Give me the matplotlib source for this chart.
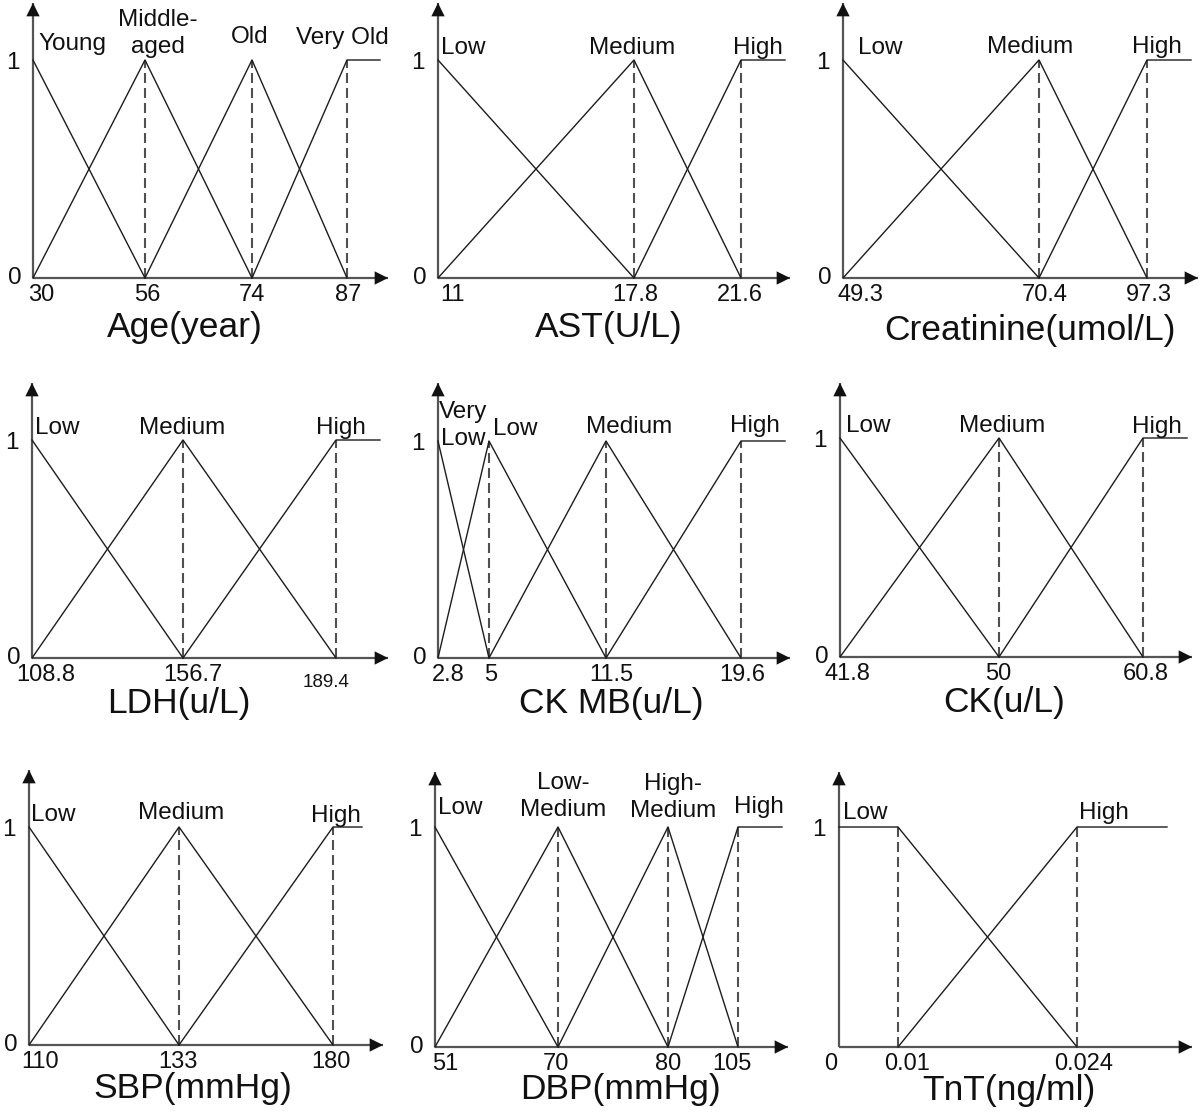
import numpy as np
import matplotlib
matplotlib.use("Agg")
import matplotlib.pyplot as plt

plt.rcParams['font.family'] = ['Liberation Sans', 'DejaVu Sans']

# ---------------- data ----------------
AGE_TITLE = "Age(year)"
AGE_BREAKS = [30, 56, 74, 87]
AGE_TICKS = ["30", "56", "74", "87"]
AGE_SETS = ["Young", "Middle-\naged", "Old", "Very Old"]
AGE_MU = [[1, 0, None, None], [0, 1, 0, None], [None, 0, 1, 0], [None, None, 0, 1]]

AST_TITLE = "AST(U/L)"
AST_BREAKS = [11, 17.8, 21.6]
AST_TICKS = ["11", "17.8", "21.6"]
AST_SETS = ["Low", "Medium", "High"]
AST_MU = [[1, 0, None], [0, 1, 0], [None, 0, 1]]

CRE_TITLE = "Creatinine(umol/L)"
CRE_BREAKS = [49.3, 70.4, 97.3]
CRE_TICKS = ["49.3", "70.4", "97.3"]
CRE_SETS = ["Low", "Medium", "High"]
CRE_MU = [[1, 0, None], [0, 1, 0], [None, 0, 1]]

LDH_TITLE = "LDH(u/L)"
LDH_BREAKS = [108.8, 156.7, 189.4]
LDH_TICKS = ["108.8", "156.7", "189.4"]
LDH_SETS = ["Low", "Medium", "High"]
LDH_MU = [[1, 0, None], [0, 1, 0], [None, 0, 1]]

CKMB_TITLE = "CK MB(u/L)"
CKMB_BREAKS = [2.8, 5, 11.5, 19.6]
CKMB_TICKS = ["2.8", "5", "11.5", "19.6"]
CKMB_SETS = ["Very\nLow", "Low", "Medium", "High"]
CKMB_MU = [[1, 0, None, None], [0, 1, 0, None], [None, 0, 1, 0], [None, None, 0, 1]]

CK_TITLE = "CK(u/L)"
CK_BREAKS = [41.8, 50, 60.8]
CK_TICKS = ["41.8", "50", "60.8"]
CK_SETS = ["Low", "Medium", "High"]
CK_MU = [[1, 0, None], [0, 1, 0], [None, 0, 1]]

SBP_TITLE = "SBP(mmHg)"
SBP_BREAKS = [110, 133, 180]
SBP_TICKS = ["110", "133", "180"]
SBP_SETS = ["Low", "Medium", "High"]
SBP_MU = [[1, 0, None], [0, 1, 0], [None, 0, 1]]

DBP_TITLE = "DBP(mmHg)"
DBP_BREAKS = [51, 70, 80, 105]
DBP_TICKS = ["51", "70", "80", "105"]
DBP_SETS = ["Low", "Low-\nMedium", "High-\nMedium", "High"]
DBP_MU = [[1, 0, None, None], [0, 1, 0, None], [None, 0, 1, 0], [None, None, 0, 1]]

TNT_TITLE = "TnT(ng/ml)"
TNT_BREAKS = [0, 0.01, 0.024]
TNT_TICKS = ["0", "0.01", "0.024"]
TNT_SETS = ["Low", "High"]
TNT_MU = [[1, 1, 0], [None, 0, 1]]

# ---------------- layout (pixels) ----------------
W, H = 1200, 1114
PT = 0.72  # points per pixel at dpi 100

LAYOUT = [
    dict(X0=33, XT=388, Y0=278, Y1=60, YT=3, px=[33, 145, 252, 347], plat=380,
         ldx=[39, 13, -2, -5], ly=[1.046, 1.032, 1.078, 1.073],
         tdx=[8, 2, 0, 1], tsz=[17, 17, 17, 17], xl=(185, 337), ylab0=True),
    dict(X0=438, XT=790, Y0=278, Y1=60, YT=3, px=[438, 634, 741], plat=785,
         ldx=[25, -2, 17], ly=[1.028, 1.028, 1.028],
         tdx=[14, 1, -1], tsz=[17, 17, 17], xl=(609, 337), ylab0=True),
    dict(X0=843, XT=1198, Y0=278, Y1=60, YT=3, px=[843, 1039, 1147], plat=1191,
         ldx=[37, -9, 10], ly=[1.028, 1.032, 1.032],
         tdx=[17, 6, 2], tsz=[17, 17, 17], xl=(1030, 340), ylab0=True),
    dict(X0=32, XT=388, Y0=658, Y1=440, YT=383, px=[32, 183, 336], plat=380,
         ldx=[25, -1, 5], ly=[1.028, 1.028, 1.028],
         tdx=[14, 10, -10], tsz=[17, 17, 13.5], xl=(179, 713), ylab0=True),
    dict(X0=438, XT=790, Y0=658, Y1=441, YT=383, px=[438, 489, 606, 741], plat=785,
         ldx=[25, 26, 23, 14], ly=[0.982, 1.028, 1.037, 1.040],
         tdx=[10, 2, 5, 1], tsz=[17, 17, 17, 17], xl=(611, 713), ylab0=True),
    dict(X0=840, XT=1192, Y0=657, Y1=438, YT=383, px=[840, 999, 1143], plat=1187,
         ldx=[28, 3, 14], ly=[1.027, 1.027, 1.023],
         tdx=[7, -1, 3], tsz=[17, 17, 17], xl=(1004, 712), ylab0=True),
    dict(X0=29, XT=383, Y0=1045, Y1=827, YT=770, px=[29, 179, 333], plat=362,
         ldx=[24, 2, 3], ly=[1.028, 1.037, 1.023],
         tdx=[11, -1, -2], tsz=[17, 17, 17], xl=(193, 1098), ylab0=True),
    dict(X0=435, XT=788, Y0=1047, Y1=827, YT=772, px=[435, 558, 668, 738], plat=782,
         ldx=[25, 5, 5, 21], ly=[1.059, 1.05, 1.045, 1.064],
         tdx=[10, -2, 0, -6], tsz=[17, 17, 17, 17], xl=(620, 1099), ylab0=True),
    dict(X0=839, XT=1192, Y0=1047, Y1=827, YT=772, px=[839, 898, 1077], plat=1167,
         ldx=[26, 27], ly=[1.036, 1.036],
         tdx=[-8, 9, 7], tsz=[17, 17, 17], xl=(1009, 1100), ylab0=False),
]

PANELS = [
    (AGE_TITLE, AGE_BREAKS, AGE_TICKS, AGE_SETS, AGE_MU),
    (AST_TITLE, AST_BREAKS, AST_TICKS, AST_SETS, AST_MU),
    (CRE_TITLE, CRE_BREAKS, CRE_TICKS, CRE_SETS, CRE_MU),
    (LDH_TITLE, LDH_BREAKS, LDH_TICKS, LDH_SETS, LDH_MU),
    (CKMB_TITLE, CKMB_BREAKS, CKMB_TICKS, CKMB_SETS, CKMB_MU),
    (CK_TITLE, CK_BREAKS, CK_TICKS, CK_SETS, CK_MU),
    (SBP_TITLE, SBP_BREAKS, SBP_TICKS, SBP_SETS, SBP_MU),
    (DBP_TITLE, DBP_BREAKS, DBP_TICKS, DBP_SETS, DBP_MU),
    (TNT_TITLE, TNT_BREAKS, TNT_TICKS, TNT_SETS, TNT_MU),
]

LINE_C = '#1c1c1c'
AXIS_C = '#555555'
HEAD_C = '#111111'
DASH_C = '#505050'
TEXT_C = '#111111'


def piecewise(vals, pos):
    v = np.asarray(vals, float)
    p = np.asarray(pos, float)
    s0 = (p[1] - p[0]) / (v[1] - v[0])
    s1 = (p[-1] - p[-2]) / (v[-1] - v[-2])

    def fwd(x):
        x = np.asarray(x, float)
        y = np.interp(x, v, p)
        y = np.where(x < v[0], p[0] + (x - v[0]) * s0, y)
        y = np.where(x > v[-1], p[-1] + (x - v[-1]) * s1, y)
        return y

    def inv(y):
        y = np.asarray(y, float)
        x = np.interp(y, p, v)
        x = np.where(y < p[0], v[0] + (y - p[0]) / s0, x)
        x = np.where(y > p[-1], v[-1] + (y - p[-1]) / s1, x)
        return x

    return fwd, inv


fig = plt.figure(figsize=(W / 100, H / 100), dpi=100)
fig.patch.set_facecolor('white')

for (title, breaks, ticks, sets, mu), L in zip(PANELS, LAYOUT):
    X0, XT, Y0, Y1, YT = L['X0'], L['XT'], L['Y0'], L['Y1'], L['YT']
    ax = fig.add_axes([X0 / W, 1 - Y0 / H, (XT - X0) / W, (Y0 - YT) / H])
    ax.set_axis_off()
    fwd, inv = piecewise(breaks, [p - X0 for p in L['px']])
    ax.set_xscale('function', functions=(fwd, inv))
    ax.set_xlim(float(inv(0)), float(inv(XT - X0)))
    ax.set_ylim(0, (Y0 - YT) / (Y0 - Y1))
    plat_x = float(inv(L['plat'] - X0))

    # axis shafts (gray) and arrow heads (dark)
    ax.plot([0, 1], [0, 0], transform=ax.transAxes, color=AXIS_C, lw=1.6,
            clip_on=False, zorder=1, solid_capstyle='butt')
    ax.plot([0, 0], [0, 1], transform=ax.transAxes, color=AXIS_C, lw=1.6,
            clip_on=False, zorder=1, solid_capstyle='butt')
    head = dict(arrowstyle='-|>,head_length=0.6,head_width=0.3', lw=0,
                color=HEAD_C, shrinkA=0, shrinkB=0, mutation_scale=16)
    ax.annotate('', xy=(1, 0), xytext=(0.9, 0), xycoords='axes fraction',
                textcoords='axes fraction', arrowprops=head, annotation_clip=False)
    ax.annotate('', xy=(0, 1), xytext=(0, 0.9), xycoords='axes fraction',
                textcoords='axes fraction', arrowprops=head, annotation_clip=False)

    # dashed verticals
    for b in breaks[1:]:
        ax.plot([b, b], [0, 1], color=DASH_C, lw=1.5, dashes=(4.8, 2.4), zorder=2)

    # membership functions
    n = len(sets)
    for i, row in enumerate(mu):
        xs = [breaks[j] for j, m in enumerate(row) if m is not None]
        ys = [m for m in row if m is not None]
        if i == n - 1:
            xs.append(plat_x)
            ys.append(ys[-1])
        ax.plot(xs, ys, color=LINE_C, lw=1.0, zorder=3, clip_on=False)
        peak = breaks[row.index(1)]
        ax.annotate(sets[i], xy=(peak, L['ly'][i]), xytext=(L['ldx'][i] * PT, 0),
                    textcoords='offset points', ha='center', va='baseline',
                    fontsize=17.5, color=TEXT_C, linespacing=1.28,
                    multialignment='center', annotation_clip=False)

    # x tick labels
    for b, t, dx, sz in zip(breaks, ticks, L['tdx'], L['tsz']):
        dy = -29 if sz < 14 else -23
        ax.annotate(t, xy=(b, 0), xytext=(dx * PT, dy * PT), textcoords='offset points',
                    ha='center', va='baseline', fontsize=sz, color=TEXT_C,
                    annotation_clip=False)

    # y tick labels
    ax.annotate('1', xy=(0, 1), xycoords=('axes fraction', 'data'),
                xytext=(-13 * PT, -9 * PT), textcoords='offset points',
                ha='right', va='baseline', fontsize=17.5, color=TEXT_C,
                annotation_clip=False)
    if L['ylab0']:
        ax.annotate('0', xy=(0, 0), xycoords=('axes fraction', 'data'),
                    xytext=(-11 * PT, -6 * PT), textcoords='offset points',
                    ha='right', va='baseline', fontsize=17.5, color=TEXT_C,
                    annotation_clip=False)

    # axis title
    cx, by = L['xl']
    fig.text(cx / W, 1 - by / H, title, ha='center', va='baseline',
             fontsize=25.5, color=TEXT_C)

fig.savefig('out.png', dpi=100, facecolor='white')
